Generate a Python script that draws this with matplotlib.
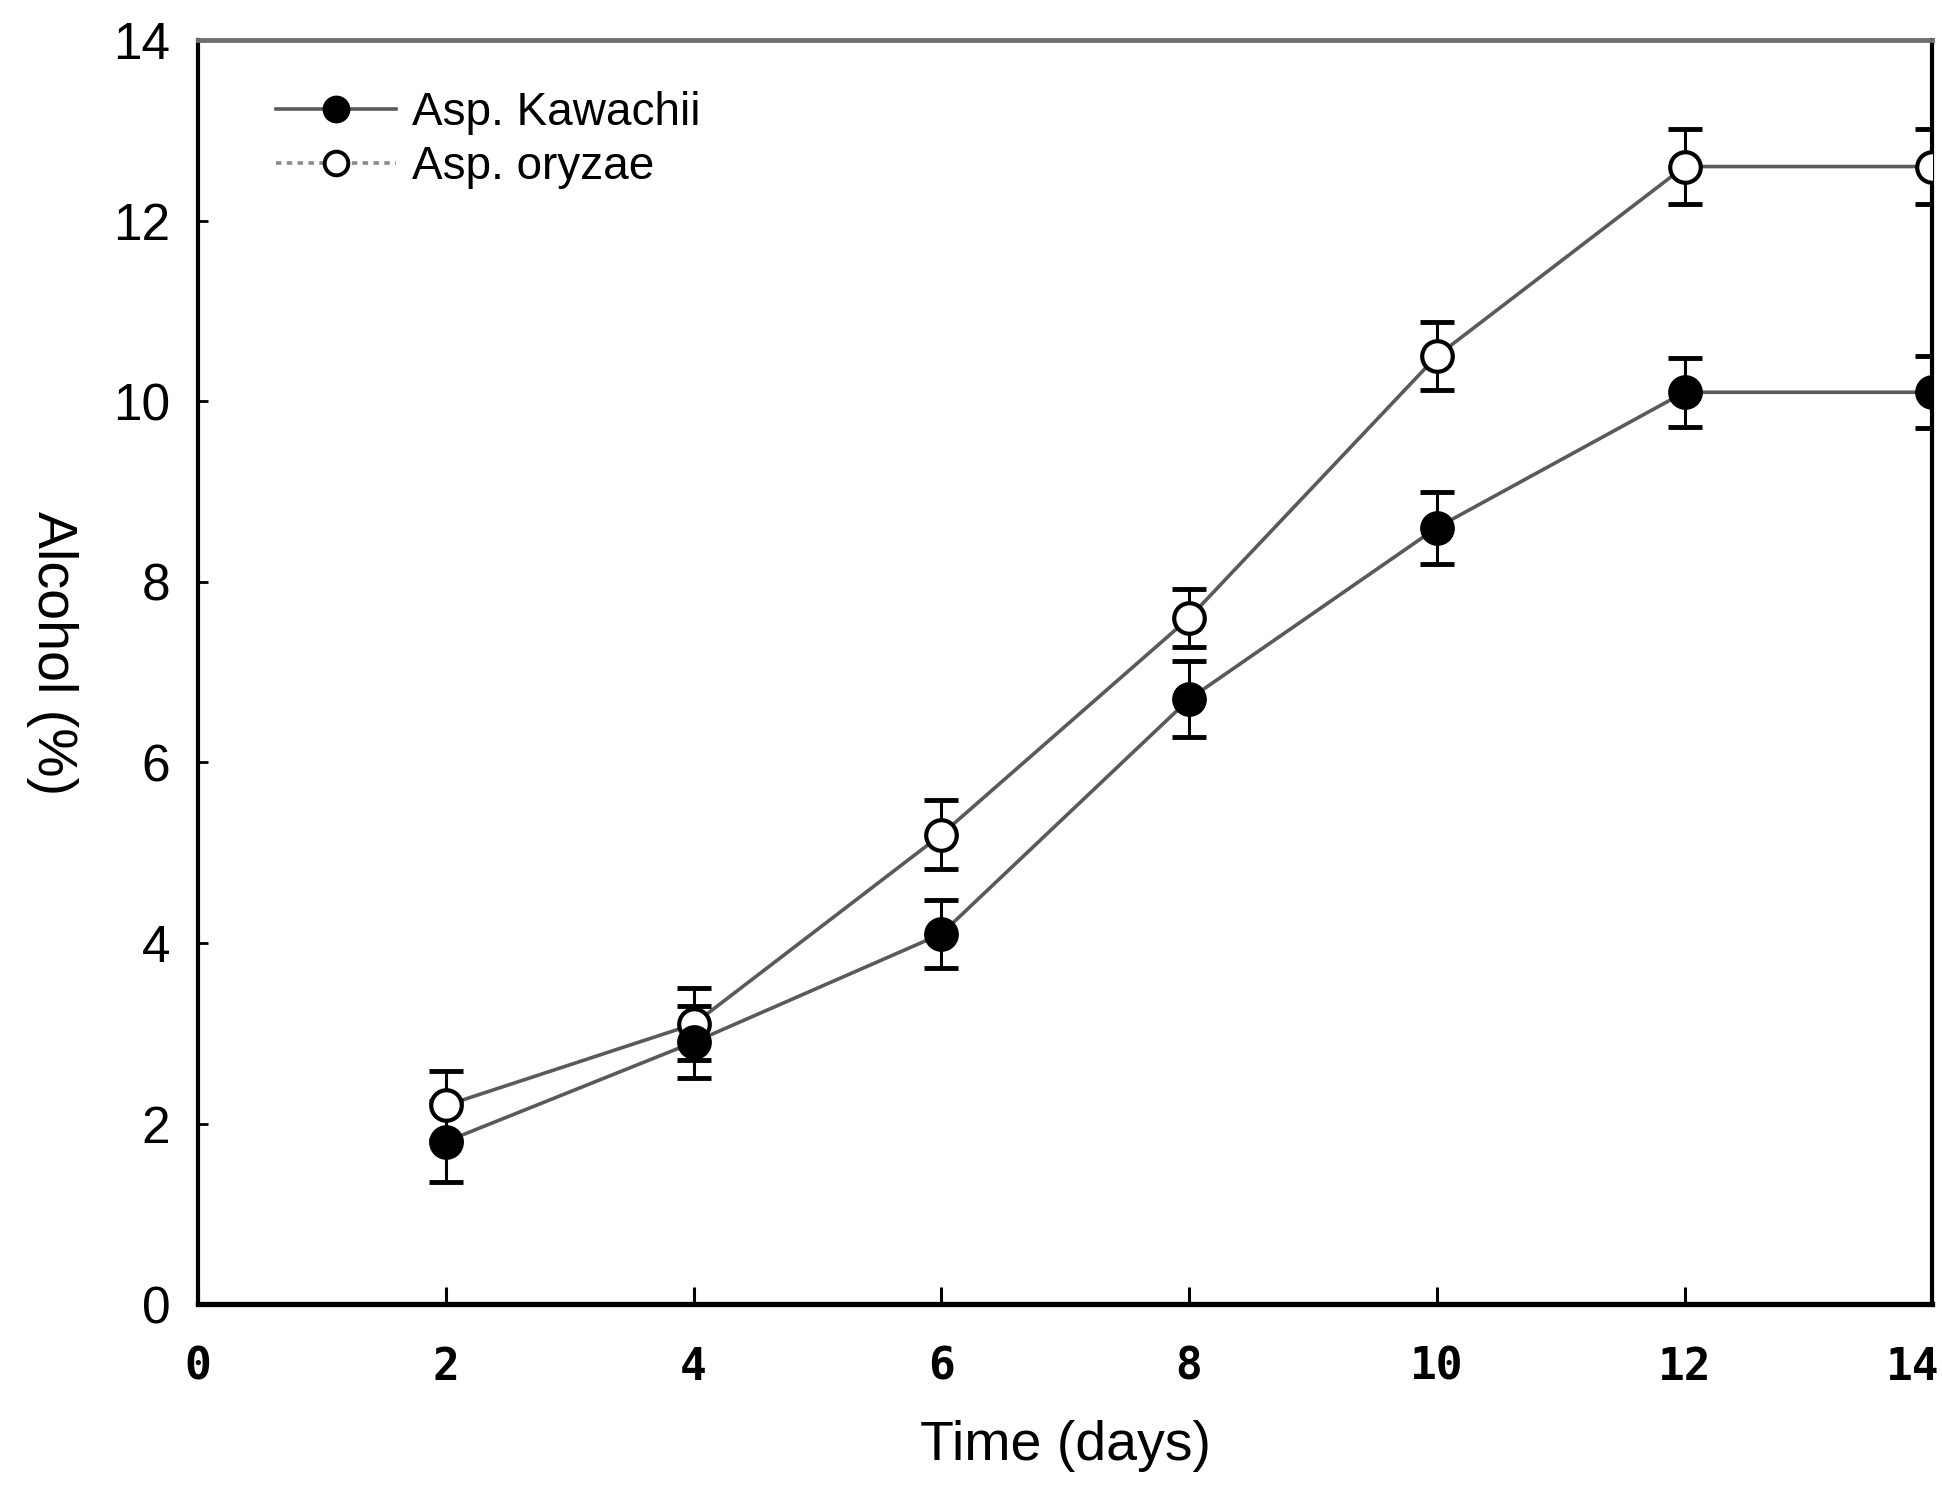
import matplotlib
matplotlib.use("Agg")
import matplotlib.pyplot as plt
import matplotlib.transforms as mtransforms
from matplotlib.lines import Line2D

# Alcohol production during fermentation
days = [2, 4, 6, 8, 10, 12, 14]
kawachii = [1.8, 2.9, 4.1, 6.7, 8.6, 10.1, 10.1]
kawachii_err = [0.45, 0.4, 0.38, 0.42, 0.4, 0.38, 0.4]
oryzae = [2.2, 3.1, 5.2, 7.6, 10.5, 12.6, 12.6]
oryzae_err = [0.38, 0.4, 0.38, 0.32, 0.38, 0.42, 0.42]

x_ticks = [0, 2, 4, 6, 8, 10, 12, 14]
y_ticks = [0, 2, 4, 6, 8, 10, 12, 14]
series_labels = ["Asp. Kawachii", "Asp. oryzae"]

narrow = ["Liberation Sans Narrow", "Liberation Sans", "DejaVu Sans"]
sans = ["Liberation Sans", "DejaVu Sans"]

fig = plt.figure(figsize=(19.42, 14.87), dpi=100)
ax = fig.add_axes([0.102, 0.123, 0.893, 0.850])

line_grey = "#5a5a5a"

# Asp. oryzae (open markers)
ax.plot(days, oryzae, color=line_grey, lw=2.6, zorder=2)
ax.errorbar(days, oryzae, yerr=oryzae_err, fmt="none", ecolor="black",
            elinewidth=2.2, capsize=12, capthick=3.5, zorder=3)
ax.plot(days, oryzae, "o", ms=22, mfc="white", mec="black", mew=3,
        ls="none", zorder=4)

# Asp. Kawachii (filled markers)
ax.plot(days, kawachii, color=line_grey, lw=2.6, zorder=2)
ax.errorbar(days, kawachii, yerr=kawachii_err, fmt="none", ecolor="black",
            elinewidth=2.2, capsize=12, capthick=3.5, zorder=3)
ax.plot(days, kawachii, "o", ms=24, mfc="black", mec="black",
        ls="none", zorder=4)

ax.set_xlim(0, 14)
ax.set_ylim(0, 14)
ax.set_xticks(x_ticks)
ax.set_yticks(y_ticks)
ax.set_xticklabels([str(v) for v in x_ticks], family=["DejaVu Sans Mono"],
                   fontweight="bold", fontsize=32)
ax.set_yticklabels([str(v) for v in y_ticks], family=narrow, fontsize=37)
ax.tick_params(axis="x", direction="in", length=12, width=2.2, pad=30)
ax.tick_params(axis="y", direction="in", length=7, width=2, pad=20)

# keep the last x tick label inside the figure edge
last = ax.get_xticklabels()[-1]
last.set_transform(last.get_transform() +
                   mtransforms.ScaledTranslation(-0.2, 0, fig.dpi_scale_trans))

for side in ("left", "right"):
    ax.spines[side].set_linewidth(3)
    ax.spines[side].set_color("black")
ax.spines["bottom"].set_linewidth(3.8)
ax.spines["bottom"].set_color("black")
ax.spines["top"].set_linewidth(3.5)
ax.spines["top"].set_color("#6e6e6e")

ax.set_xlabel("Time (days)", family=sans, fontsize=40)
ax.xaxis.set_label_coords(0.5, -0.092)
ax.set_ylabel("Alcohol (%)", family=sans, fontsize=40, rotation=-90,
              ha="center", va="center")
ax.yaxis.set_label_coords(-0.084, 0.515)

handles = [
    Line2D([], [], color=line_grey, lw=2.6, marker="o", ms=19,
           mfc="black", mec="black"),
    Line2D([], [], color="#8a8a8a", lw=2.6, ls=(0, (1.5, 1.5)), marker="o",
           ms=17, mfc="white", mec="black", mew=2.8),
]
ax.legend(handles, series_labels, loc="upper left",
          bbox_to_anchor=(0.032, 0.978), frameon=False, borderpad=0,
          handlelength=2.6, handletextpad=0.35, labelspacing=0.22,
          prop={"family": sans, "size": 33})

fig.savefig("out.png", dpi=100)
